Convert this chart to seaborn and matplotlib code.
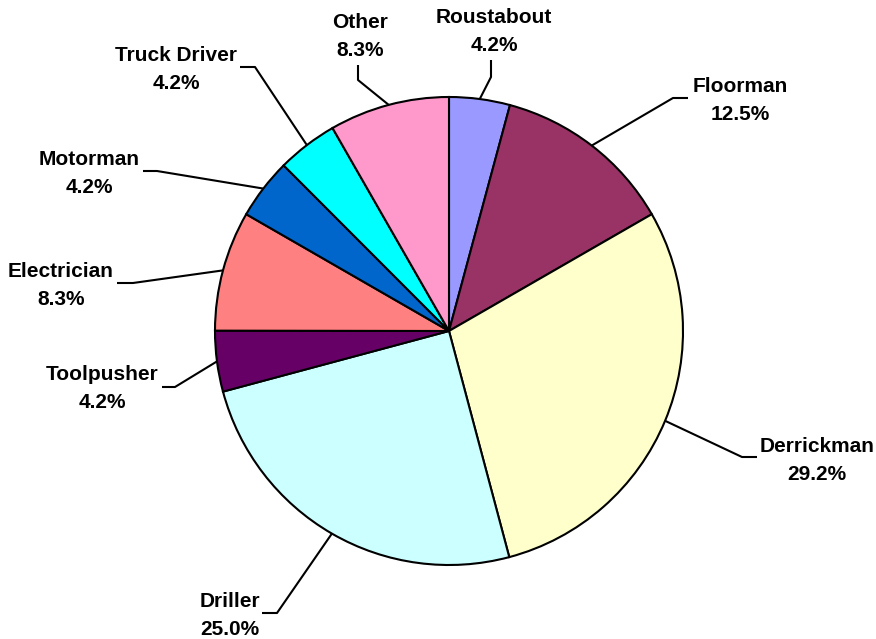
import numpy as np
import matplotlib
matplotlib.use("Agg")
import matplotlib.pyplot as plt
import seaborn as sns

# ---- data ----
labels = ["Roustabout", "Floorman", "Derrickman", "Driller", "Toolpusher",
          "Electrician", "Motorman", "Truck Driver", "Other"]
shares = [4.2, 12.5, 29.2, 25.0, 4.2, 8.3, 4.2, 4.2, 8.3]
colors = ["#9999FF", "#993366", "#FFFFCC", "#CCFFFF", "#660066",
          "#FF8080", "#0066CC", "#00FFFF", "#FF99CC"]

# ---- layout (pixel coords, y measured from top) ----
W, H = 876, 639
center_px = (449, 331)
radius_px = 234
# elbow point and stub end of each leader line
elbows = [(491, 77), (673, 98), (742, 457), (277, 613), (175, 387),
          (133, 283), (157, 171), (255, 67), (358, 80)]
stub_ends = [(491, 60), (688, 98), (757, 457), (262, 613), (162, 387),
             (117, 283), (143, 171), (240, 67), (358, 65)]
# label centre x and baseline of the first line
label_pos = [(494, 23), (740, 92), (817, 452), (230, 607), (102, 380),
             (61, 277), (89, 165), (176, 61), (360, 28)]
line_gap = 28

sns.set_theme(style="white")
plt.rcParams["font.family"] = ["Liberation Sans", "DejaVu Sans"]


def fy(y):
    return H - y


fig = plt.figure(figsize=(W / 100, H / 100), dpi=100)
ax = fig.add_axes([0, 0, 1, 1])
wedges, _ = ax.pie(shares, colors=colors, startangle=90, counterclock=False,
                   center=(center_px[0], fy(center_px[1])), radius=radius_px,
                   wedgeprops=dict(edgecolor="black", linewidth=1.5))
ax.set_aspect("auto")
ax.set_xlim(0, W)
ax.set_ylim(0, H)
ax.axis("off")

for w, lab, val, el, se, (lx, ly) in zip(wedges, labels, shares, elbows,
                                          stub_ends, label_pos):
    th = np.deg2rad((w.theta1 + w.theta2) / 2)
    ax_x = center_px[0] + radius_px * np.cos(th)
    ax_y = fy(center_px[1]) + radius_px * np.sin(th)
    ax.plot([ax_x, el[0], se[0]], [ax_y, fy(el[1]), fy(se[1])],
            color="black", lw=1.5, solid_capstyle="butt", zorder=3)
    ax.text(lx, fy(ly), lab, ha="center", va="baseline", fontsize=15,
            fontweight="bold", color="black")
    ax.text(lx, fy(ly + line_gap), f"{val:.1f}%", ha="center", va="baseline",
            fontsize=15, fontweight="bold", color="black")

fig.savefig("out.png", dpi=100, facecolor="white")
